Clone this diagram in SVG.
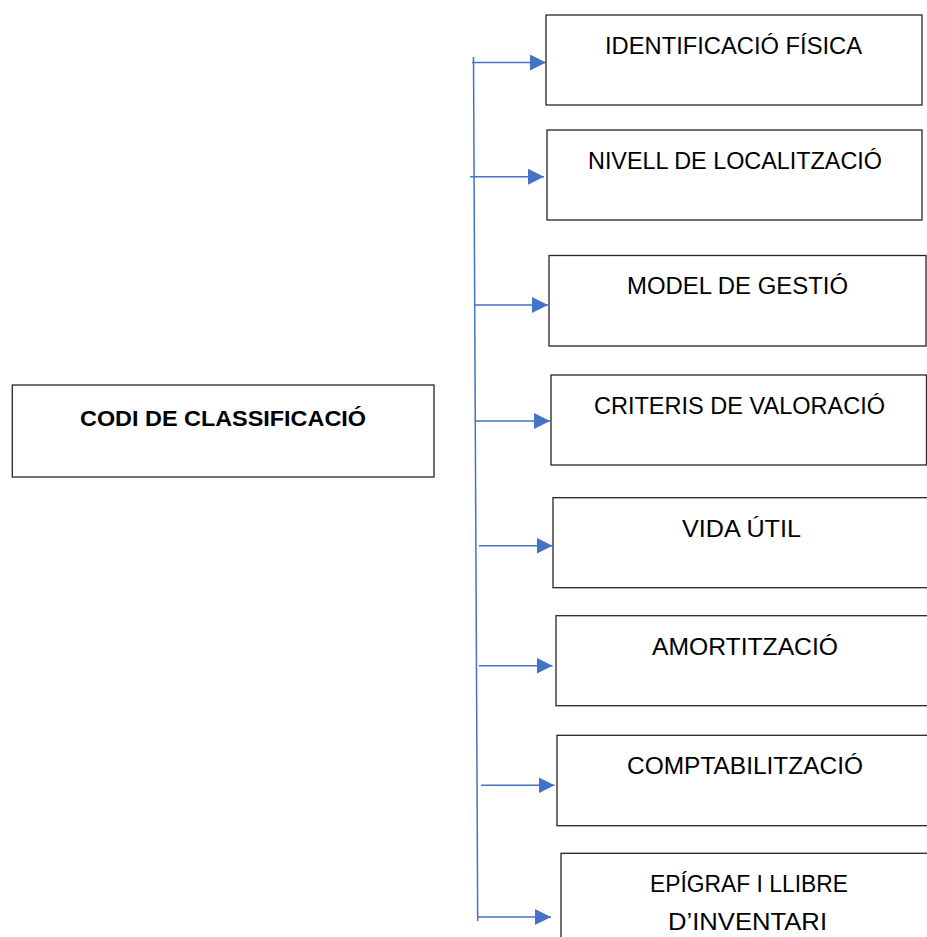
<svg xmlns="http://www.w3.org/2000/svg" width="927" height="937" viewBox="0 0 927 937">
<style>
.box{fill:#fff;stroke:#262626;stroke-width:1.3}
.t{font-family:"Liberation Sans",Arial,sans-serif;font-size:23.5px;fill:#000;text-anchor:middle}
.b{font-weight:bold;font-size:22.5px}
.c{stroke:#4472C4;stroke-width:1.5;fill:none}
</style>
<defs>
<marker id="ah" markerUnits="userSpaceOnUse" markerWidth="16" markerHeight="16" refX="16" refY="8" orient="auto">
<path d="M0,0 L16,8 L0,16 z" fill="#4472C4"/>
</marker>
</defs>
<rect width="927" height="937" fill="#fff"/>
<g id="connectors">
<line class="c" x1="473.5" y1="57" x2="477.7" y2="921"/>
<line class="c" x1="472" y1="62.5" x2="546" y2="62.5" marker-end="url(#ah)"/>
<line class="c" x1="470" y1="176.7" x2="544" y2="176.7" marker-end="url(#ah)"/>
<line class="c" x1="475" y1="305" x2="548" y2="305" marker-end="url(#ah)"/>
<line class="c" x1="476" y1="421" x2="550" y2="421" marker-end="url(#ah)"/>
<line class="c" x1="479" y1="545.7" x2="552.5" y2="545.7" marker-end="url(#ah)"/>
<line class="c" x1="479" y1="665.7" x2="552.5" y2="665.7" marker-end="url(#ah)"/>
<line class="c" x1="481" y1="785.3" x2="554.5" y2="785.3" marker-end="url(#ah)"/>
<line class="c" x1="477.7" y1="917" x2="551" y2="917" marker-end="url(#ah)"/>
</g>
<g id="codi">
<rect class="box" x="12.3" y="385" width="421.7" height="92"/>
<text class="t b" x="223" y="425.5" textLength="286" lengthAdjust="spacingAndGlyphs">CODI DE CLASSIFICACIÓ</text>
</g>
<g id="n1">
<rect class="box" x="546" y="15" width="376" height="90"/>
<text class="t" x="733.5" y="53.5" textLength="257" lengthAdjust="spacingAndGlyphs">IDENTIFICACIÓ FÍSICA</text>
</g>
<g id="n2">
<rect class="box" x="547" y="130" width="375" height="90"/>
<text class="t" x="735" y="168.5" textLength="294" lengthAdjust="spacingAndGlyphs">NIVELL DE LOCALITZACIÓ</text>
</g>
<g id="n3">
<rect class="box" x="549" y="255.5" width="377" height="90.5"/>
<text class="t" x="737.5" y="294" textLength="221" lengthAdjust="spacingAndGlyphs">MODEL DE GESTIÓ</text>
</g>
<g id="n4">
<rect class="box" x="551" y="375" width="375.5" height="90"/>
<text class="t" x="739.5" y="413.5" textLength="291" lengthAdjust="spacingAndGlyphs">CRITERIS DE VALORACIÓ</text>
</g>
<g id="n5">
<rect class="box" x="553" y="497.7" width="378" height="90"/>
<text class="t" x="741.5" y="536.5" textLength="119" lengthAdjust="spacingAndGlyphs">VIDA ÚTIL</text>
</g>
<g id="n6">
<rect class="box" x="556" y="615.7" width="378" height="90"/>
<text class="t" x="745" y="654.5" textLength="186" lengthAdjust="spacingAndGlyphs">AMORTITZACIÓ</text>
</g>
<g id="n7">
<rect class="box" x="557" y="735.3" width="378" height="90.4"/>
<text class="t" x="745" y="774" textLength="236" lengthAdjust="spacingAndGlyphs">COMPTABILITZACIÓ</text>
</g>
<g id="n8">
<rect class="box" x="561" y="853.3" width="378" height="100"/>
<text class="t" x="749" y="892" textLength="198" lengthAdjust="spacingAndGlyphs">EPÍGRAF I LLIBRE</text>
<text class="t" x="747.5" y="929.5" textLength="159" lengthAdjust="spacingAndGlyphs">D’INVENTARI</text>
</g>
</svg>
